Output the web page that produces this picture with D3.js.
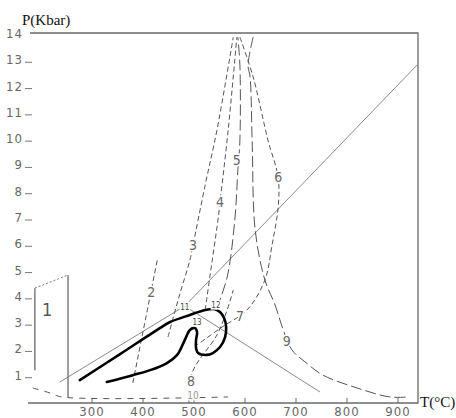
<!DOCTYPE html>
<html>
<head>
<meta charset="utf-8">
<title>P-T grid</title>
<script src="https://cdn.jsdelivr.net/npm/d3@7"></script>
<style>
    body { margin: 0; background: #fff; }
    .lbl { font-family: "Liberation Sans Narrow", "DejaVu Sans Condensed", "Liberation Sans", sans-serif; fill: #666; }
    .ttl { font-family: "Liberation Serif", "DejaVu Serif", serif; fill: #111; font-size: 15px; }
</style>
</head>
<body>
<svg id="chart" width="456" height="418"></svg>

<script type="text/javascript">
    // tick labels
    const tTicks = [300, 400, 500, 600, 700, 800, 900];
    const pTicks = [1, 2, 3, 4, 5, 6, 7, 8, 9, 10, 11, 12, 13, 14];

    // reaction curves, [T (C), P (kbar)]
    const curve2 = [[380, 0.76], [428, 5.44]];
    const curve3 = [[449, 2.51], [470, 4.0], [492, 5.44], [498, 6.0], [522, 8.3], [545, 10.38], [577, 13.92]];
    const curve4 = [[522, 3.54], [531, 4.79], [547, 6.96], [551, 7.64], [567, 10.38], [584, 13.92]];
    const curve5 = [[545, 3.61], [565, 4.79], [580, 6.96], [586, 8.86], [590, 10.0], [590, 12.85], [586, 13.92]];
    const curve6 = [[590, 13.92], [616, 12.4], [645, 10.0], [665, 8.59], [665, 7.45], [653, 6.01], [639, 4.68], [604, 3.54], [555, 2.89], [506, 2.21]];
    const curve8 = [[490, 0], [496, 1.14], [545, 2.59], [565, 3.54], [577, 4.3]];
    const curve9 = [[616, 13.92], [606, 12.85], [610, 12.4], [614, 10.0], [620, 6.58], [639, 4.68], [659, 3.73], [675, 2.78],
        [692, 2.02], [718, 1.56], [753, 1.06], [820, 0.57], [884, 0.23], [920, 0.23]];
    const curve10 = [[184, 0.57], [218, 0.38], [241, 0.23], [567, 0.23]];

    // straight reaction lines meeting at the invariant point
    const line1 = [[482, 3.69], [937, 12.85]];
    const line2 = [[237, 0.8], [482, 3.69]];
    const line3 = [[482, 3.69], [747, 0.42]];

    // field 1 box
    const field1Left = [[188, 4.37], [188, 1.25]];
    const field1Right = [[253, 4.87], [253, 0.23]];
    const field1Top = [[188, 4.37], [253, 4.87]];

    // P-T path (thick)
    const ptPath = [[276, 0.87], [355, 1.86], [433, 2.85], [453, 3.08], [492, 3.35], [522, 3.54], [541, 3.57], [551, 3.46],
        [559, 3.23], [563, 2.89], [561, 2.51], [551, 2.13], [537, 1.9], [525, 1.83], [508, 1.9], [504, 2.09], [504, 2.4],
        [506, 2.7], [502, 2.85], [492, 2.78], [482, 2.4], [467, 1.83], [447, 1.52], [414, 1.25], [380, 1.06], [329, 0.8]];

    // curve numbers [text, T, P]
    const curveLabels = [["2", 416, 4.22], ["3", 498, 6.01], ["4", 551, 7.64], ["5", 584, 9.24], ["6", 665, 8.59],
        ["7", 590, 3.31], ["8", 494, 0.84], ["9", 682, 2.36]];
    const smallLabels = [["11", 482, 3.65], ["12", 543, 3.73], ["13", 506, 3.08]];
    const label10 = [["10", 498, 0.3]];
    const fieldLabels = [["1", 212, 3.54]];

    const svg = d3.select('#chart');

    const x = d3.scaleLinear().domain([300, 900]).range([92, 398]);
    const y = d3.scaleLinear().domain([0, 14]).range([403, 35]);
    const tMin = x.invert(28), tMax = x.invert(418), pTop = y.invert(33);

    const line = d3.line().x(d => x(d[0])).y(d => y(d[1]));
    const smooth = d3.line().x(d => x(d[0])).y(d => y(d[1])).curve(d3.curveCatmullRom.alpha(0.5));

    /// frame
    const frame = svg.append('g').attr('stroke', '#6a6a6a').attr('stroke-width', 1.3).attr('fill', 'none');
    frame.append('path').attr('d', line([[tMin, 0], [tMax, 0], [tMax, pTop], [x.invert(30), pTop]]));

    /// x ticks
    svg.append('g').selectAll('line').data(tTicks).join('line')
        .attr('x1', d => x(d)).attr('x2', d => x(d))
        .attr('y1', y(0)).attr('y2', y(0) - 5)
        .attr('stroke', '#6a6a6a');
    svg.append('g').selectAll('text').data(tTicks).join('text')
        .attr('class', 'lbl')
        .attr('x', d => x(d)).attr('y', y(0) + 13)
        .attr('text-anchor', 'middle')
        .style('font-size', '13px')
        .style('letter-spacing', '1px')
        .text(d => d);

    /// y ticks
    svg.append('g').selectAll('line').data(pTicks.filter(d => d < 14)).join('line')
        .attr('x1', 25).attr('x2', 32)
        .attr('y1', d => y(d) + 1).attr('y2', d => y(d) + 1)
        .attr('stroke', '#777');
    svg.append('g').selectAll('text').data(pTicks).join('text')
        .attr('class', 'lbl')
        .attr('x', 23).attr('y', d => y(d) + 3)
        .attr('text-anchor', 'end')
        .style('font-size', '13px')
        .style('letter-spacing', '1px')
        .text(d => d);

    /// axis titles
    svg.append('text').attr('class', 'ttl').attr('x', 22).attr('y', 25).text('P(Kbar)');
    svg.append('text').attr('class', 'ttl').attr('x', 420).attr('y', 407).text('T(°C)');

    /// thin straight lines
    svg.append('g').selectAll('path').data([line1, line2, line3]).join('path')
        .attr('d', line)
        .attr('fill', 'none').attr('stroke', '#8a8a8a').attr('stroke-width', 1);

    /// field 1
    svg.append('g').selectAll('path').data([field1Left, field1Right]).join('path')
        .attr('d', line)
        .attr('fill', 'none').attr('stroke', '#6a6a6a').attr('stroke-width', 1.3);
    svg.append('path').datum(field1Top).attr('d', line)
        .attr('fill', 'none').attr('stroke', '#777').attr('stroke-dasharray', '2,2');

    /// dashed curves
    svg.append('g').selectAll('path').data([curve2, curve3, curve4, curve6, curve8]).join('path')
        .attr('d', smooth)
        .attr('fill', 'none').attr('stroke', '#555').attr('stroke-width', 1)
        .attr('stroke-dasharray', '5,3');
    svg.append('g').selectAll('path').data([curve5, curve9]).join('path')
        .attr('d', smooth)
        .attr('fill', 'none').attr('stroke', '#555').attr('stroke-width', 1)
        .attr('stroke-dasharray', '11,4');
    svg.append('path').datum(curve10).attr('d', smooth)
        .attr('fill', 'none').attr('stroke', '#555').attr('stroke-width', 1)
        .attr('stroke-dasharray', '6,6');

    /// P-T path
    svg.append('path').datum(ptPath).attr('d', smooth)
        .attr('fill', 'none').attr('stroke', '#000').attr('stroke-width', 2.6)
        .attr('stroke-linejoin', 'round').attr('stroke-linecap', 'round');

    /// labels
    function addLabels(data, size, color) {
        svg.append('g').selectAll('text').data(data).join('text')
            .attr('class', 'lbl')
            .attr('x', d => x(d[1])).attr('y', d => y(d[2]))
            .attr('dy', '0.35em')
            .attr('text-anchor', 'middle')
            .style('font-size', size)
            .style('fill', color)
            .style('paint-order', 'stroke')
            .style('stroke', '#fff').style('stroke-width', 3)
            .text(d => d[0]);
    }
    addLabels(curveLabels, '14px', '#666');
    addLabels(smallLabels, '8px', '#444');
    addLabels(label10, '10px', '#999');
    addLabels(fieldLabels, '18px', '#555');
</script>
</body>
</html>
